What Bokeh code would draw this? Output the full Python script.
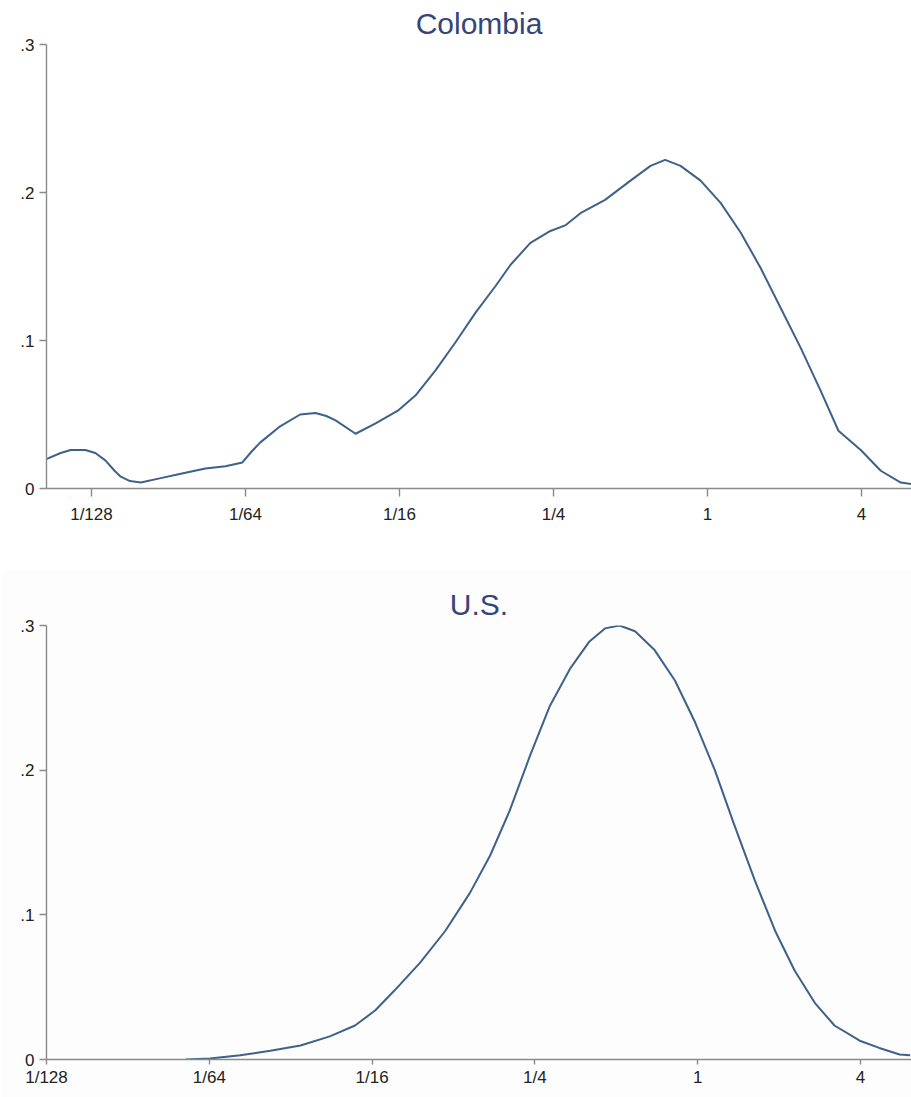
from bokeh.plotting import figure
from bokeh.layouts import column
from bokeh.models import Range1d, FixedTicker
from bokeh.embed import file_html
from bokeh.resources import INLINE

# x positions are in log2 units of the axis (tick "1/128" drawn at -8, ..., "4" at 2)
tick_pos = [-8, -6, -4, -2, 0, 2]
tick_labels = ["1/128", "1/64", "1/16", "1/4", "1", "4"]
y_ticks = [0, 0.1, 0.2, 0.3]
y_labels = ["0", ".1", ".2", ".3"]

col_x = [-8.58, -8.40, -8.27, -8.08, -7.95, -7.82, -7.70, -7.62, -7.50, -7.36,
         -7.10, -6.84, -6.52, -6.26, -6.04, -5.92, -5.81, -5.55, -5.29, -5.09,
         -4.95, -4.83, -4.57, -4.31, -4.01, -3.79, -3.53, -3.27, -3.01, -2.75,
         -2.56, -2.30, -2.04, -1.84, -1.65, -1.33, -1.00, -0.74, -0.55, -0.35,
         -0.09, 0.17, 0.43, 0.69, 0.95, 1.21, 1.47, 1.70, 1.99, 2.25,
         2.51, 2.65]
col_y = [0.020, 0.024, 0.026, 0.026, 0.024, 0.019, 0.012, 0.008, 0.005, 0.004,
         0.007, 0.010, 0.0135, 0.015, 0.0176, 0.025, 0.031, 0.042, 0.050, 0.051,
         0.049, 0.046, 0.037, 0.044, 0.053, 0.063, 0.080, 0.099, 0.119, 0.137,
         0.151, 0.166, 0.174, 0.178, 0.186, 0.195, 0.208, 0.218, 0.222, 0.218,
         0.208, 0.193, 0.173, 0.149, 0.122, 0.095, 0.066, 0.039, 0.026, 0.012,
         0.004, 0.003]

us_x = [-6.29, -5.99, -5.62, -5.25, -4.88, -4.52, -4.21, -3.96, -3.72, -3.41,
        -3.10, -2.80, -2.55, -2.31, -2.06, -1.82, -1.57, -1.33, -1.14, -0.96,
        -0.77, -0.53, -0.28, -0.04, 0.21, 0.45, 0.70, 0.95, 1.19, 1.44,
        1.68, 1.99, 2.23, 2.48, 2.61]
us_y = [0.0, 0.0007, 0.003, 0.006, 0.0097, 0.016, 0.0235, 0.034, 0.048, 0.067,
        0.089, 0.115, 0.141, 0.172, 0.210, 0.244, 0.270, 0.289, 0.298, 0.300,
        0.296, 0.283, 0.262, 0.234, 0.200, 0.162, 0.124, 0.089, 0.0615, 0.039,
        0.0235, 0.013, 0.008, 0.0035, 0.003]

LINE = "#3d6189"
AXIS = "#8a8a8a"
TITLE = "#34457a"


def make(title, xs, ys, xr, height, bottom, top, bg="white"):
    p = figure(width=911, height=height, output_backend="svg", toolbar_location=None,
               x_range=Range1d(*xr), y_range=Range1d(0, 0.3), title=title,
               min_border_left=46, min_border_right=0, min_border_bottom=bottom,
               min_border_top=top, background_fill_color=bg, border_fill_color=bg)
    p.outline_line_color = None
    p.grid.visible = False
    p.title.align = "center"
    p.title.vertical_align = "middle"
    p.title.text_font = "Liberation Sans"
    p.title.text_font_size = "30px"
    p.title.text_font_style = "normal"
    p.title.text_color = TITLE
    p.title.standoff = 8
    p.line(xs, ys, line_color=LINE, line_width=2, line_join="round")
    for ax in (p.xaxis[0], p.yaxis[0]):
        ax.axis_line_color = AXIS
        ax.major_tick_line_color = AXIS
        ax.minor_tick_line_color = None
        ax.major_tick_in = 0
        ax.major_label_text_font = "Liberation Sans"
        ax.major_label_text_font_size = "17px"
        ax.major_label_text_color = "#222222"
        ax.axis_line_width = 1.4
        ax.major_tick_line_width = 1.4
    p.xaxis.ticker = FixedTicker(ticks=tick_pos)
    p.xaxis.major_label_overrides = {t: l for t, l in zip(tick_pos, tick_labels)}
    p.yaxis.ticker = FixedTicker(ticks=y_ticks)
    p.yaxis.major_label_overrides = {t: l for t, l in zip(y_ticks, y_labels)}
    p.yaxis.major_label_orientation = "horizontal"
    p.yaxis.major_tick_out = 7
    p.yaxis.major_label_standoff = 5
    return p


p1 = make("Colombia", col_x, col_y, (-8.584, 2.649), 568, 80, 44)
p1.xaxis.major_tick_out = 8
p1.xaxis.major_label_standoff = 8
p2 = make("U.S.", us_x, us_y, (-8.0, 2.626), 529, 38, 57, bg="#fdfdfd")
p2.xaxis.major_tick_out = 5
p2.xaxis.major_label_standoff = 3

layout = column(p1, p2, spacing=0)
open("out.html", "w").write(file_html(layout, INLINE))
